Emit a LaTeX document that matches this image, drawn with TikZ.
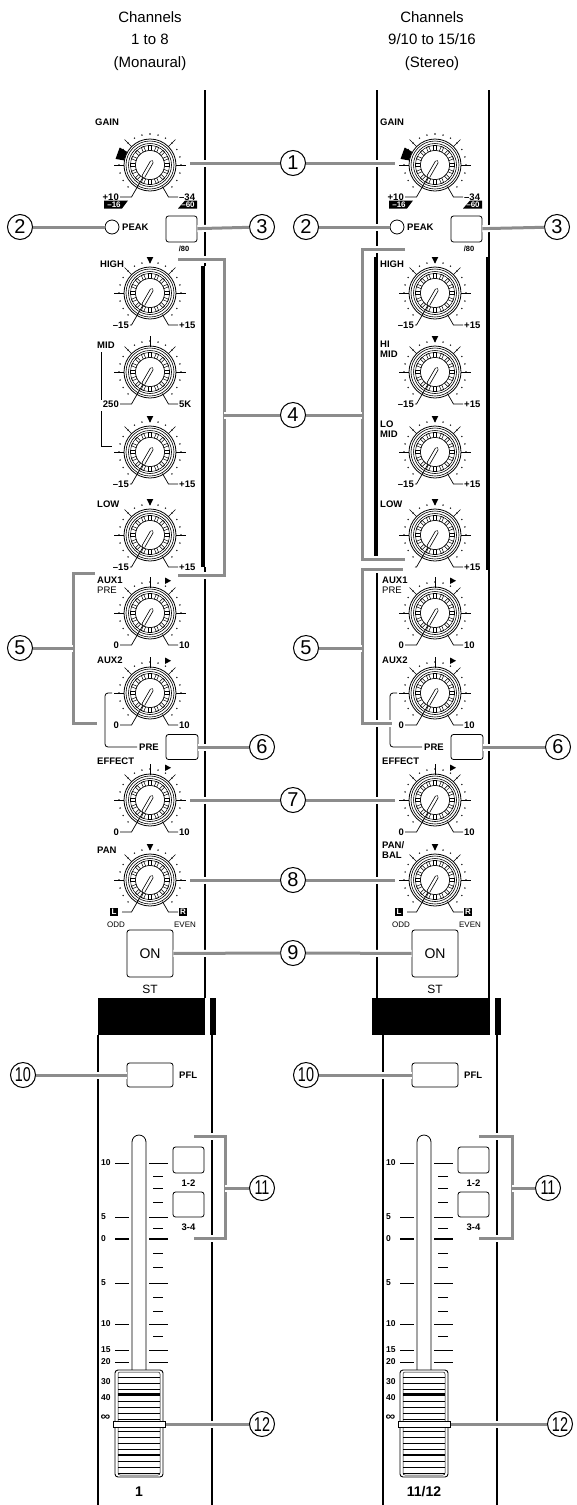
\documentclass[tikz,border=0pt]{standalone}
\usepackage{fontspec}
\setmainfont{Liberation Sans}
\usepackage{graphicx}
\definecolor{cg}{RGB}{140,140,140}
\tikzset{
  callout/.style={draw=cg, line width=3pt, preaction={draw=white, line width=7pt}},
  num/.style={circle, draw, line width=1pt, minimum size=25pt, inner sep=0pt, font=\fontsize{20}{20}\selectfont},
  klab/.style={font=\fontsize{9.5}{9.5}\selectfont\bfseries, inner sep=0pt},
  slab/.style={font=\fontsize{9.5}{9.5}\selectfont\bfseries, inner sep=0pt},
  tiny/.style={font=\fontsize{8}{8}\selectfont, inner sep=0pt},
  scl/.style={font=\fontsize{8.5}{8.5}\selectfont\bfseries, inner sep=0pt, anchor=west},
  chnum/.style={font=\fontsize{14}{14}\selectfont\bfseries, inner sep=0pt},
  btn/.style={draw, line width=0.8pt, rounded corners=2.5pt, inner sep=0pt},
  stripline/.style={line width=1.2pt},
  thickbar/.style={line width=3.5pt},
  thin/.style={line width=0.8pt},
  head/.style={font=\fontsize{15}{22.5}\selectfont, align=center, inner sep=0pt},
  boxlab/.style={fill=black, text=white, inner sep=0pt, minimum size=8.5pt, font=\fontsize{8}{8}\selectfont\bfseries},
}
% knob: #1 name, #2 x, #3 y, #4 min label, #5 max label, #6 left leader length
\newcommand\knob[6]{%
\begin{scope}[shift={(#2,#3)}]
  \foreach \a in {-135,-120,...,135}{\fill ({\a-90}:31) circle (0.8);}
  \foreach \a in {-90,-45,45,90}{\draw[line width=0.6pt] ({\a-90}:25) -- ({\a-90}:36);}
  \draw[line width=0.8pt, fill=white] (0,0) circle (26);
  \draw[line width=0.6pt] (0,0) circle (24);
  \draw[line width=0.6pt] (0,0) circle (21.5);
  \draw[line width=0.5pt] (0,0) circle (19.5);
  \foreach \k in {0,...,15}{\draw[line width=0.5pt, rotate=\k*22.5] (-1.3,14.5) rectangle (1.3,19.5);}
  \draw[line width=0.6pt, fill=white] (0,0) circle (14.5);
  \draw[line width=0.7pt] (-240:14) -- (-240:37) -- (-#6,32);
  \draw[line width=0.7pt] (60:25) -- (60:37) -- (28,32);
  \draw[line width=3.8pt, line cap=round] (-60:3.5) -- (-240:13);
  \draw[white, line width=2.3pt, line cap=round] (-60:3.5) -- (-240:13);
  \node[slab, anchor=east] (#1mn) at (-#6-1,32) {#4};
  \node[slab, anchor=west] (#1mx) at (29,32) {#5};
\end{scope}}
\newcommand\ktri[2]{\fill (#1-3.3,#2-36) -- (#1+3.3,#2-36) -- (#1,#2-29.5) -- cycle;}
\newcommand\ktick[2]{\draw[line width=0.6pt] (#1,#2-25) -- (#1,#2-36);}
\newcommand\karrow[2]{\ktick{#1}{#2}\fill (#1+15,#2-35.5) -- (#1+15,#2-29) -- (#1+21,#2-32.25) -- cycle;}
\newcommand\kname[4]{\node[klab, anchor=base west] (#1) at (#2,#3) {#4};}
% gain section, #1 = x shift, #2 = suffix
\newcommand\gainpart[2]{%
\begin{scope}[xshift=#1pt]
  \knob{gain#2}{150}{165}{+10}{–34}{30}
  \fill[shift={(150,165)}] (-170:26.5) -- (-150:26.5) -- (-150:35) -- (-170:35) -- cycle;
  \fill (104,200.5) -- (128,200.5) -- (122,208.5) -- (104,208.5) -- cycle;
  \node[font=\fontsize{8}{8}\selectfont\bfseries, text=white, inner sep=0pt] (g16#2) at (114,204.5) {–16};
  \fill (185,200.5) -- (197,200.5) -- (197,208.5) -- (178,208.5) -- cycle;
  \node[font=\fontsize{8}{8}\selectfont\bfseries, text=white, inner sep=0pt] (g60#2) at (188,204.5) {–60};
  \kname{gname#2}{95}{125.5}{GAIN}
  \node[circle, draw, line width=0.8pt, minimum size=14pt, inner sep=0pt] (led#2) at (112,227) {};
  \node[klab, anchor=west] (peak#2) at (122,227) {PEAK};
  \node[btn, minimum width=31pt, minimum height=26pt] (b80#2) at (181.5,229) {};
  \node[font=\fontsize{7.5}{7.5}\selectfont\bfseries, inner sep=0pt] (l80#2) at (184,249) {/80};
\end{scope}}
% lower section: aux, effect, pan, on, bar, fader
\newcommand\lowerpart[4]{%
\begin{scope}[xshift=#1pt]
  \knob{aux1#2}{150}{613}{0}{10}{30}\karrow{150}{613}
  \kname{aux1n#2}{97}{583}{AUX1}
  \node[klab, anchor=base west, font=\fontsize{9.5}{9.5}\selectfont] (pren#2) at (97,593) {PRE};
  \knob{aux2#2}{150}{693}{0}{10}{30}\karrow{150}{693}
  \kname{aux2n#2}{97}{663}{AUX2}
  \draw[thin, rounded corners=3pt] (112,693) -- (105,693) -- (105,747) -- (137,747);
  \node[klab, anchor=west] (prel#2) at (139,747) {PRE};
  \node[btn, minimum width=32pt, minimum height=25pt] (pre#2) at (182,747) {};
  \knob{eff#2}{150}{800}{0}{10}{30}\karrow{150}{800}
  \knob{pan#2}{150}{880}{}{}{28}\ktri{150}{880}
  \node[boxlab] (panL#2) at (114,912) {L};
  \node[boxlab] (panR#2) at (183,912) {R};
  \node[tiny] (odd#2) at (116,924.5) {ODD};
  \node[tiny] (even#2) at (185,924.5) {EVEN};
  \node[btn, minimum width=46pt, minimum height=47pt, font=\fontsize{14}{14}\selectfont] (on#2) at (150,953.5) {ON};
  \node[font=\fontsize{12}{12}\selectfont, inner sep=0pt] (st#2) at (150,989) {ST};
  \fill (#3,998) rectangle (205,1035);
  \fill (210,998) rectangle (216,1035);
  \draw[stripline] (98,1035) -- (98,1505);
  \draw[stripline] (212,1035) -- (212,1505);
  \node[btn, minimum width=46pt, minimum height=24pt] (pfl#2) at (150,1075) {};
  \node[klab, anchor=west] (pfll#2) at (179,1075) {PFL};
  \draw[line width=0.8pt, fill=white] (132,1372) -- (132,1142) arc[start angle=180, end angle=360, radius=7] -- (146,1372);
  \foreach \y/\t in {1163/10, 1217/5, 1283/5, 1324/10, 1350/15, 1362/20}{
    \draw[line width=1pt] (115,\y) -- (129,\y);
    \draw[line width=1pt] (149,\y) -- (168,\y);
    \node[scl] (sc#2\y) at (101,\y) {\t};}
  \draw[line width=2pt] (115,1239) -- (129,1239);
  \draw[line width=2pt] (149,1239) -- (168,1239);
  \node[scl] (sc#2z) at (101,1239) {0};
  \foreach \y in {1176,1188,1202,1228,1253,1267,1297,1311,1336}{\draw[line width=1pt] (153,\y) -- (163,\y);}
  \node[scl] (sc#2a) at (101,1382) {30};
  \node[scl] (sc#2b) at (101,1398) {40};
  \node[scl] (sc#2c) at (100.5,1418) {\scalebox{1.6}[1.4]{∞}};
  \node[btn, minimum width=31pt, minimum height=26pt] (b12#2) at (188.5,1160) {};
  \node[klab] (b12l#2) at (188.5,1183.5) {1-2};
  \node[btn, minimum width=31pt, minimum height=25pt] (b34#2) at (188.5,1204.5) {};
  \node[klab] (b34l#2) at (188.5,1227.5) {3-4};
  \draw[line width=0.9pt, fill=white, rounded corners=3pt] (115,1370) rectangle (163,1477);
  \draw[line width=0.5pt, rounded corners=2pt] (118,1372) rectangle (160,1475);
  \foreach \y in {1377,1383,...,1473}{\draw[line width=0.6pt] (118,\y) -- (160,\y);}
  \draw[line width=2pt] (118,1394) -- (160,1394);
  \draw[line width=2pt] (118,1455) -- (160,1455);
  \draw[line width=0.7pt, fill=white] (113,1421) rectangle (165,1427);
  \node[chnum] (ch#2) at (139,1492) {#4};
\end{scope}}

\begin{document}
\begin{tikzpicture}[x=1pt,y=-1pt]
\useasboundingbox (0,0) rectangle (576,1505);
\fill[white] (0,0) rectangle (576,1505);
\node[head] (hL) at (150,41) {Channels\\1 to 8\\(Monaural)};
\node[head] (hR) at (432,41) {Channels\\9/10 to 15/16\\(Stereo)};
% strip lines
\draw[stripline] (205,90) -- (205,266);
\draw[thickbar] (203,266) -- (203,567);
\draw[stripline] (205,567) -- (205,998);
\draw[stripline] (377,90) -- (377,257);
\draw[thickbar] (376,257) -- (376,557);
\draw[stripline] (377,570) -- (377,998);
\draw[stripline] (489,90) -- (489,257);
\draw[thickbar] (488,257) -- (488,570);
\draw[stripline] (489,570) -- (489,998);
% sections
\gainpart{0}{L}
\gainpart{285}{R}
\lowerpart{0}{L}{98}{1}
\lowerpart{285}{R}{87}{11/12}
% left EQ
\knob{hiL}{150}{293}{–15}{+15}{20}\ktri{150}{293}
\kname{hinL}{100}{267.5}{HIGH}
\knob{mfL}{150}{372}{250}{5K}{30}\ktick{150}{372}
\kname{mfnL}{97}{348.5}{MID}
\draw[thin] (101,352) -- (101,400);
\draw[thin] (101,411) -- (101,446) -- (112,446);
\knob{mgL}{150}{452}{–15}{+15}{20}\ktri{150}{452}
\knob{loL}{150}{535}{–15}{+15}{20}\ktri{150}{535}
\kname{lonL}{97}{507}{LOW}
\kname{effnL}{97}{764}{EFFECT}
\kname{pannL}{97}{853}{PAN}
% right EQ
\knob{hiR}{435}{293}{–15}{+15}{20}\ktri{435}{293}
\kname{hinR}{380}{267}{HIGH}
\knob{hmR}{435}{372}{–15}{+15}{20}\ktri{435}{372}
\kname{hmn1R}{380}{347}{HI}
\kname{hmn2R}{380}{357}{MID}
\knob{lmR}{435}{452}{–15}{+15}{20}\ktri{435}{452}
\kname{lmn1R}{380}{427}{LO}
\kname{lmn2R}{380}{437}{MID}
\knob{loR}{435}{535}{}{+15}{20}\ktri{435}{535}
\kname{lonR}{380}{507}{LOW}
\kname{effnR}{382}{764}{EFFECT}
\kname{pann1R}{382}{848}{PAN/}
\kname{pann2R}{382}{858}{BAL}
% number circles
\node[num] (n1) at (293,163) {1};
\node[num] (n2L) at (20,227) {2};
\node[num] (n3L) at (262,227) {3};
\node[num] (n2R) at (306,227) {2};
\node[num] (n3R) at (557,227) {3};
\node[num] (n4) at (293,415) {4};
\node[num] (n5L) at (20,648) {5};
\node[num] (n5R) at (306,648) {5};
\node[num] (n6L) at (262,747) {6};
\node[num] (n6R) at (558,747) {6};
\node[num] (n7) at (293,800) {7};
\node[num] (n8) at (293,880) {8};
\node[num] (n9) at (293,953) {9};
\node[num] (n10L) at (23,1075) {\scalebox{0.72}[1]{10}};
\node[num] (n10R) at (306,1075) {\scalebox{0.72}[1]{10}};
\node[num] (n11L) at (262,1188) {\scalebox{0.72}[1]{11}};
\node[num] (n11R) at (548,1188) {\scalebox{0.72}[1]{11}};
\node[num] (n12L) at (262,1424) {\scalebox{0.72}[1]{12}};
\node[num] (n12R) at (560,1424) {\scalebox{0.72}[1]{12}};
% connector end points
\coordinate (g1L) at (190,163);
\coordinate (g1R) at (395,163);
\coordinate (k4L) at (224,415);
\coordinate (k4R) at (362,415);
\coordinate (k5L) at (73,648);
\coordinate (k5R) at (362,648);
\coordinate (e7L) at (190,800);
\coordinate (e7R) at (395,800);
\coordinate (p8L) at (190,880);
\coordinate (p8R) at (395,880);
\coordinate (k11L) at (225,1188);
\coordinate (k11R) at (512,1188);
\coordinate (f12L) at (166,1424);
\coordinate (f12R) at (451,1424);
% brackets
\draw[callout] (178,259) -- (224,259) -- (224,575) -- (178,575);
\draw[callout] (405,249) -- (362,249) -- (362,559) -- (405,559);
\draw[callout] (95,573) -- (73,573) -- (73,723) -- (97,723);
\draw[callout] (403,569) -- (362,569) -- (362,723) -- (392,723);
\draw[callout] (194,1136) -- (225,1136) -- (225,1238) -- (194,1238);
\draw[callout] (479,1136) -- (512,1136) -- (512,1238) -- (479,1238);
% callouts
\draw[callout] (g1L) -- (n1);
\draw[callout] (n1) -- (g1R);
\draw[callout] (n2L) -- (ledL);
\draw[callout] (b80L) -- (n3L);
\draw[callout] (n2R) -- (ledR);
\draw[callout] (b80R) -- (n3R);
\draw[callout] (k4L) -- (n4);
\draw[callout] (n4) -- (k4R);
\draw[callout] (n5L) -- (k5L);
\draw[callout] (n5R) -- (k5R);
\draw[callout] (preL) -- (n6L);
\draw[callout] (preR) -- (n6R);
\draw[callout] (e7L) -- (n7);
\draw[callout] (n7) -- (e7R);
\draw[callout] (p8L) -- (n8);
\draw[callout] (n8) -- (p8R);
\draw[callout] (onL) -- (n9);
\draw[callout] (n9) -- (onR);
\draw[callout] (n10L) -- (pflL);
\draw[callout] (n10R) -- (pflR);
\draw[callout] (k11L) -- (n11L);
\draw[callout] (k11R) -- (n11R);
\draw[callout] (f12L) -- (n12L);
\draw[callout] (f12R) -- (n12R);
\end{tikzpicture}
\end{document}
